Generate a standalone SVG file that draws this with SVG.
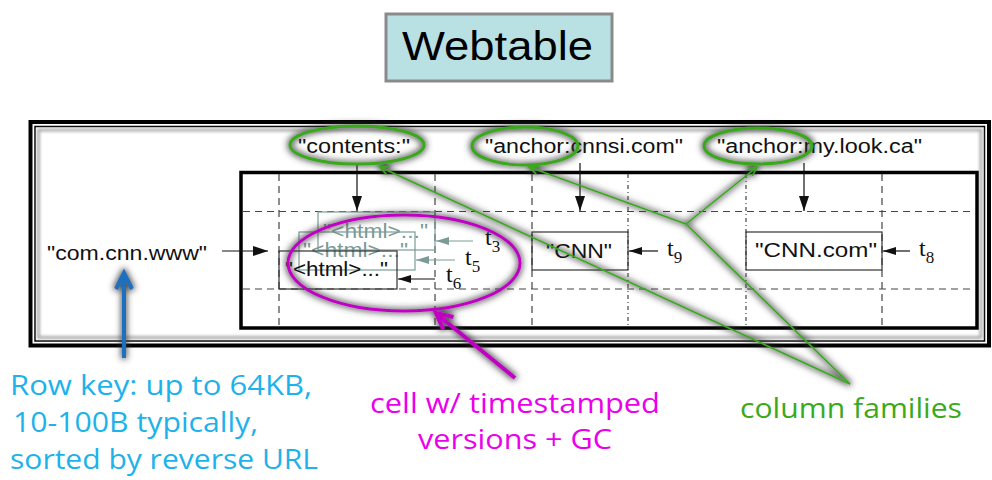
<svg xmlns="http://www.w3.org/2000/svg" width="992" height="480" viewBox="0 0 992 480">
<style>
.lbl{font-family:"Liberation Sans",Arial,sans-serif;font-size:20px;fill:#111}
.gry{fill:#7a9b96}
.tm{font-family:"Liberation Serif","Times New Roman",serif;font-size:24px;fill:#111}
.sub{font-size:17px}
.ann{font-family:"Open Sans","Noto Sans",sans-serif;font-size:27px}
.dash{stroke:#444;stroke-width:1.2;stroke-dasharray:7 5;fill:none}
.dot{stroke:#444;stroke-width:1.2;stroke-dasharray:4 3 1 3;fill:none}
.cellbox{fill:none;stroke:#333;stroke-width:1.2}
.ga{stroke:#3aa81e;stroke-width:1.6;fill:none}
.ge{stroke:#3aa81e;stroke-width:3;fill:none}
</style>
<defs>
<filter id="glow" x="-30%" y="-30%" width="160%" height="160%">
<feMorphology in="SourceAlpha" operator="dilate" radius="1.2" result="d"/>
<feGaussianBlur in="d" stdDeviation="3.2" result="b"/>
<feFlood flood-color="#333" flood-opacity="0.85"/>
<feComposite in2="b" operator="in" result="s"/>
<feMerge><feMergeNode in="s"/><feMergeNode in="SourceGraphic"/></feMerge>
</filter>
<filter id="soft" x="-5%" y="-5%" width="110%" height="110%">
<feGaussianBlur stdDeviation="1.6"/>
</filter>
<marker id="ab" markerUnits="userSpaceOnUse" markerWidth="13" markerHeight="8" refX="13" refY="4" orient="auto">
<path d="M0,0 L13,4 L0,8 z" fill="#111"/>
</marker>
<marker id="abig" markerUnits="userSpaceOnUse" markerWidth="15" markerHeight="10" refX="15" refY="5" orient="auto">
<path d="M0,0 L15,5 L0,10 z" fill="#111"/>
</marker>
<marker id="ag" markerUnits="userSpaceOnUse" markerWidth="13" markerHeight="8" refX="13" refY="4" orient="auto">
<path d="M0,0 L13,4 L0,8 z" fill="#7a9b96"/>
</marker>
<marker id="agr" markerUnits="userSpaceOnUse" markerWidth="12" markerHeight="10" refX="10" refY="5" orient="auto">
<path d="M1,1 L10,5 L1,9" fill="none" stroke="#3aa81e" stroke-width="1.6"/>
</marker>
</defs>

<rect width="992" height="480" fill="#fff"/>

<g id="title">
<rect x="386" y="14" width="226" height="67" fill="#b9e0e3" stroke="#8a8a8a" stroke-width="3"/>
<text x="402" y="60" font-family="Liberation Sans,Arial,sans-serif" font-size="40" fill="#000" textLength="191" lengthAdjust="spacingAndGlyphs">Webtable</text>
</g>

<g id="frame">
<rect x="30.5" y="122" width="958.5" height="223.5" fill="none" stroke="#000" stroke-width="4"/>
<rect x="35" y="126.5" width="949.5" height="214.5" fill="none" stroke="#000" stroke-width="1.5"/>
<rect x="38.5" y="130" width="942.5" height="207.5" fill="none" stroke="#aaa" stroke-width="3" filter="url(#soft)"/>
</g>

<g id="table">
<rect x="241" y="172.5" width="736" height="155.5" fill="none" stroke="#000" stroke-width="3.5"/>
<line class="dash" x1="243" y1="211.5" x2="975" y2="211.5"/>
<line class="dash" x1="243" y1="289" x2="975" y2="289"/>
<line class="dash" x1="279" y1="174" x2="279" y2="326"/>
<line class="dash" x1="435" y1="174" x2="435" y2="326"/>
<line class="dash" x1="532" y1="174" x2="532" y2="326"/>
<line class="dot" x1="628" y1="174" x2="628" y2="326"/>
<line class="dot" x1="746" y1="174" x2="746" y2="326"/>
<line class="dash" x1="882" y1="174" x2="882" y2="326"/>
</g>

<g id="row-key">
<text class="lbl" x="47" y="260" textLength="160" lengthAdjust="spacingAndGlyphs">"com.cnn.www"</text>
</g>

<g id="col-contents">
<text class="lbl" x="298" y="153" textLength="112" lengthAdjust="spacingAndGlyphs">"contents:"</text>
</g>
<g id="col-anchor-cnnsi">
<text class="lbl" x="485" y="153" textLength="198" lengthAdjust="spacingAndGlyphs">"anchor:cnnsi.com"</text>
</g>
<g id="col-anchor-mylook">
<text class="lbl" x="717" y="153" textLength="205" lengthAdjust="spacingAndGlyphs">"anchor:my.look.ca"</text>
</g>

<g id="cell-contents">
<rect x="318" y="212" width="117" height="38" fill="none" stroke="#7a9b96" stroke-width="1.2"/>
<text class="lbl gry" x="323" y="238" textLength="105" lengthAdjust="spacingAndGlyphs">"&lt;html&gt;..."</text>
<rect x="299" y="232" width="116" height="38" fill="none" stroke="#7a9b96" stroke-width="1.2"/>
<text class="lbl gry" x="303" y="257" textLength="105" lengthAdjust="spacingAndGlyphs">"&lt;html&gt;..."</text>
<rect x="279" y="251" width="118" height="38" class="cellbox"/>
<text class="lbl" x="285" y="276" textLength="103" lengthAdjust="spacingAndGlyphs">"&lt;html&gt;..."</text>
<text class="tm gry" x="485" y="245">t<tspan class="sub" dy="7">3</tspan></text>
<text class="tm gry" x="465" y="265">t<tspan class="sub" dy="7">5</tspan></text>
<text class="tm" x="446" y="282">t<tspan class="sub" dy="7">6</tspan></text>
</g>

<g id="cell-cnnsi">
<rect x="532" y="232" width="96" height="38" class="cellbox"/>
<text class="lbl" x="546" y="258" textLength="66" lengthAdjust="spacingAndGlyphs">"CNN"</text>
<text class="tm" x="667" y="256">t<tspan class="sub" dy="7">9</tspan></text>
</g>

<g id="cell-mylook">
<rect x="746" y="232" width="136" height="38" class="cellbox"/>
<text class="lbl" x="755" y="257" textLength="122" lengthAdjust="spacingAndGlyphs">"CNN.com"</text>
<text class="tm" x="919" y="256">t<tspan class="sub" dy="7">8</tspan></text>
</g>

<g id="connectors">
<line x1="222" y1="251" x2="268" y2="251" stroke="#111" stroke-width="1.2" marker-end="url(#abig)"/>
<line x1="357" y1="163" x2="357" y2="211" stroke="#111" stroke-width="1.2" marker-end="url(#abig)"/>
<line x1="580" y1="163" x2="580" y2="211" stroke="#111" stroke-width="1.2" marker-end="url(#abig)"/>
<line x1="804" y1="163" x2="804" y2="211" stroke="#111" stroke-width="1.2" marker-end="url(#abig)"/>
<line x1="473" y1="241" x2="436" y2="241" stroke="#7a9b96" stroke-width="1.2" marker-end="url(#ag)"/>
<line x1="455" y1="260" x2="416" y2="260" stroke="#7a9b96" stroke-width="1.2" marker-end="url(#ag)"/>
<line x1="435" y1="279" x2="398" y2="279" stroke="#111" stroke-width="1.2" marker-end="url(#ab)"/>
<line x1="658" y1="251" x2="629" y2="251" stroke="#111" stroke-width="1.2" marker-end="url(#ab)"/>
<line x1="910" y1="251" x2="883" y2="251" stroke="#111" stroke-width="1.2" marker-end="url(#ab)"/>
</g>

<g id="annotations" filter="url(#glow)">
<ellipse class="ge" cx="357" cy="145" rx="67" ry="19"/>
<ellipse class="ge" cx="525" cy="146" rx="53" ry="19"/>
<ellipse class="ge" cx="758" cy="146" rx="54" ry="18"/>
<ellipse cx="404" cy="263" rx="116" ry="48" fill="none" stroke="#c000c4" stroke-width="3"/>
<line class="ga" x1="850" y1="384" x2="380" y2="167" marker-end="url(#agr)"/>
<line class="ga" x1="850" y1="384" x2="686" y2="224"/>
<line class="ga" x1="686" y1="224" x2="529" y2="167" marker-end="url(#agr)"/>
<line class="ga" x1="686" y1="224" x2="757" y2="167" marker-end="url(#agr)"/>
<line x1="124" y1="358" x2="124" y2="275" stroke="#1a6fbf" stroke-width="4"/>
<polyline points="116,289 124,273 132,289" fill="none" stroke="#1a6fbf" stroke-width="4" stroke-linejoin="miter"/>
<line x1="515" y1="378" x2="438" y2="315" stroke="#c000c4" stroke-width="4"/>
<polyline points="453.5,317 436,313 443.3,329.4" fill="none" stroke="#c000c4" stroke-width="4"/>
</g>

<g id="notes">
<g class="ann" fill="#1eb2ea">
<text x="10" y="395" textLength="302" lengthAdjust="spacingAndGlyphs">Row key: up to 64KB,</text>
<text x="13" y="432" textLength="245" lengthAdjust="spacingAndGlyphs">10-100B typically,</text>
<text x="10" y="469" textLength="308" lengthAdjust="spacingAndGlyphs">sorted by reverse URL</text>
</g>
<g class="ann" fill="#ea00ea">
<text x="370" y="413" textLength="290" lengthAdjust="spacingAndGlyphs">cell w/ timestamped</text>
<text x="418" y="449" textLength="194" lengthAdjust="spacingAndGlyphs">versions + GC</text>
</g>
<text class="ann" fill="#3aaa1a" x="740" y="418" textLength="222" lengthAdjust="spacingAndGlyphs">column families</text>
</g>
</svg>
